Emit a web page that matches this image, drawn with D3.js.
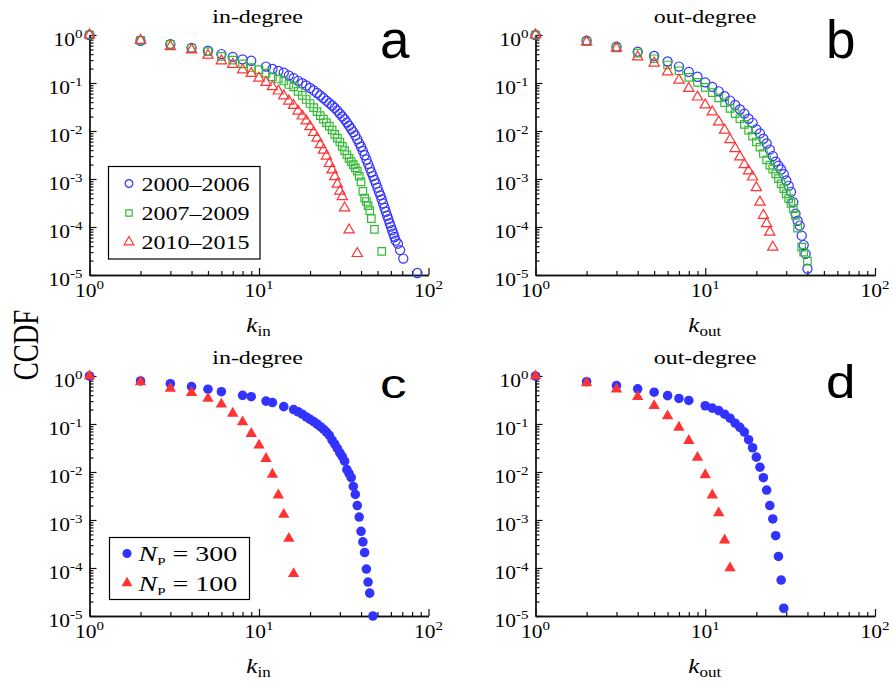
<!DOCTYPE html>
<html><head><meta charset="utf-8">
<script src="https://cdn.jsdelivr.net/npm/d3@7"></script>
<style>body{margin:0;background:#fff}svg{display:block}</style>
</head><body>
<svg id="chart" width="892" height="688"></svg>
<script>
// ---------- data ----------
const xTickExps = [0, 1, 2];
const yTickExps = [0, -1, -2, -3, -4, -5];
const panelTitles = ["in-degree", "out-degree", "in-degree", "out-degree"];
const panelLetters = ["a", "b", "c", "d"];
const axisSubs = ["in", "out", "in", "out"];
const legendPeriods = ["2000–2006", "2007–2009", "2010–2015"];
const legendNP = ["300", "100"];

// panel a: in-degree, empirical periods  [k, CCDF]
const inDeg2000 = [[1,1.0],[2,0.76],[3,0.64],[4,0.54],[5,0.47],[6,0.40],[7,0.35],[8,0.31],[9,0.29],[11,0.22],[12,0.196],[13,0.178],[14,0.164],[15,0.143],[16,0.126],[17,0.111],[18,0.099],[19,0.089],[20,0.079],[21,0.070],[22,0.062],[23,0.055],[24,0.0486],[25,0.0428],[26,0.038],[27,0.034],[28,0.0303],[29,0.0265],[30,0.023],[31,0.0201],[32,0.0176],[33,0.015],[34,0.0129],[35,0.011],[36,0.0095],[37,0.0081],[38,0.0067],[39,0.0056],[40,0.0047],[41,0.00385],[42,0.00313],[43,0.00255],[44,0.00207],[45,0.00169],[46,0.00138],[47,0.00115],[48,0.00096],[49,0.0008],[50,0.00066],[51,0.00054],[52,0.000456],[53,0.000375],[54,0.000308],[55,0.000253],[56,0.000208],[57,0.000172],[58,0.000146],[59,0.00012],[60,0.000102],[61,8.6e-5],[62,7.3e-5],[63,6.2e-5],[64,5.2e-5],[66,4.5e-5],[68,3.3e-5],[71,2.2e-5],[86,1.1e-5]];
const inDeg2007 = [[1,1.0],[2,0.77],[3,0.64],[4,0.53],[5,0.45],[6,0.36],[7,0.30],[8,0.25],[9,0.21],[10,0.19],[11,0.16],[12,0.135],[13,0.121],[14,0.11],[15,0.093],[16,0.083],[17,0.067],[18,0.0552],[19,0.0453],[20,0.0374],[21,0.0306],[22,0.0253],[23,0.0209],[24,0.0177],[25,0.0149],[26,0.0126],[27,0.0104],[28,0.0085],[29,0.0071],[30,0.0059],[31,0.0048],[32,0.0039],[33,0.0032],[34,0.0027],[35,0.0023],[36,0.0020],[37,0.0017],[38,0.00146],[39,0.00115],[40,0.00087],[41,0.00055],[42,0.00040],[43,0.00034],[44,0.00028],[45,0.00022],[46,0.00015],[48,8.9e-5],[53,3.1e-5]];
const inDeg2010 = [[1,1.0],[2,0.77],[3,0.57],[4,0.49],[5,0.38],[6,0.29],[7,0.245],[8,0.187],[9,0.158],[10,0.126],[11,0.103],[12,0.084],[13,0.068],[14,0.054],[15,0.042],[16,0.034],[17,0.026],[18,0.0205],[19,0.0162],[20,0.0123],[21,0.0093],[22,0.0071],[23,0.0052],[24,0.0040],[25,0.0030],[26,0.0021],[27,0.00155],[28,0.00112],[29,0.00078],[30,0.00056],[31,0.00043],[32,0.00025],[34,8.7e-5],[38,2.8e-5]];

// panel b: out-degree, empirical periods
const outDeg2000 = [[1,1.0],[2,0.76],[3,0.57],[4,0.45],[5,0.365],[6,0.28],[7,0.22],[8,0.17],[9,0.135],[10,0.103],[11,0.083],[12,0.067],[13,0.053],[14,0.043],[15,0.035],[16,0.028],[17,0.023],[18,0.018],[19,0.0148],[20,0.0108],[21,0.0089],[22,0.0069],[23,0.0055],[24,0.0041],[25,0.0030],[26,0.0023],[27,0.0019],[28,0.00158],[29,0.00126],[30,0.00093],[31,0.00072],[32,0.00054],[33,0.00033],[34,0.00019],[35,0.000135],[36,0.000107],[37,6.6e-5],[38,4.2e-5],[39,2.75e-5],[40,1.35e-5]];
const outDeg2007 = [[1,1.0],[2,0.73],[3,0.54],[4,0.42],[5,0.32],[6,0.237],[7,0.18],[8,0.131],[9,0.103],[10,0.081],[11,0.063],[12,0.049],[13,0.039],[14,0.0295],[15,0.023],[16,0.018],[17,0.0138],[18,0.0104],[19,0.0078],[20,0.0059],[21,0.0046],[22,0.0034],[23,0.0025],[24,0.00195],[25,0.0016],[26,0.00128],[27,0.00102],[28,0.00079],[29,0.00063],[30,0.00049],[31,0.00039],[32,0.00031],[33,0.00024],[34,0.000175],[35,9.5e-5],[37,3.8e-5],[38,3.0e-5],[40,1.95e-5]];
const outDeg2010 = [[1,1.0],[2,0.72],[3,0.53],[4,0.35],[5,0.26],[6,0.17],[7,0.115],[8,0.077],[9,0.051],[10,0.035],[11,0.025],[12,0.0155],[13,0.0104],[14,0.0066],[15,0.0043],[16,0.0029],[17,0.002],[18,0.00147],[19,0.0011],[20,0.00066],[21,0.00033],[22,0.000175],[23,0.000117],[24,7.8e-5],[25,3.8e-5]];

// panel c: in-degree, model
const inDegNP300 = [[1,1.0],[2,0.79],[3,0.69],[4,0.60],[5,0.53],[6,0.47],[8,0.395],[9,0.37],[11,0.30],[12,0.28],[14,0.23],[16,0.20],[17,0.18],[18,0.16],[19,0.14],[20,0.125],[21,0.112],[22,0.10],[23,0.088],[24,0.078],[25,0.068],[26,0.058],[27,0.046],[28,0.038],[29,0.031],[30,0.025],[31,0.021],[32,0.0168],[33,0.0112],[34,0.0093],[35,0.0076],[36,0.005],[37,0.0034],[38,0.0020],[39,0.00115],[40,0.00058],[41,0.00035],[42,0.00021],[43,9.5e-5],[44,5.1e-5],[45,3.0e-5],[47,1.0e-5]];
const inDegNP100 = [[1,1.0],[2,0.75],[3,0.55],[4,0.45],[5,0.34],[6,0.257],[7,0.166],[8,0.11],[9,0.063],[10,0.036],[11,0.019],[12,0.0089],[13,0.0033],[14,0.0013],[15,0.00041],[16,7.6e-5]];

// panel d: out-degree, model
const outDegNP300 = [[1,1.0],[2,0.76],[3,0.63],[4,0.54],[5,0.46],[6,0.39],[7,0.34],[8,0.31],[10,0.24],[11,0.214],[12,0.19],[13,0.16],[14,0.132],[15,0.104],[16,0.085],[17,0.068],[18,0.047],[19,0.032],[20,0.0204],[21,0.0126],[22,0.0076],[23,0.0042],[24,0.0020],[25,0.00105],[26,0.00047],[27,0.000174],[28,5.6e-5],[29,1.45e-5]];
const outDegNP100 = [[1,1.0],[2,0.72],[3,0.53],[4,0.37],[5,0.24],[6,0.147],[7,0.085],[8,0.045],[9,0.020],[10,0.0087],[11,0.0033],[12,0.0014],[13,0.00038],[14,1.0e-4]];

// ---------- styling / layout ----------
const BLUE = "#3333ff", GREEN = "#33bb33", RED = "#ff3333";
const SERIF = "'Liberation Serif','Times New Roman',serif";
const SANS = "'Liberation Sans',Arial,Helvetica,sans-serif";

const layout = [
  {x0: 89.5, x1: 428.5, y0: 35, y1: 275, tx: 257.5, ty: 22.5},
  {x0: 535.5, x1: 875, y0: 35, y1: 275, tx: 705, ty: 22.5},
  {x0: 89.5, x1: 428.5, y0: 376, y1: 616, tx: 257.5, ty: 363.5},
  {x0: 535.5, x1: 875, y0: 376, y1: 616, tx: 705, ty: 363.5}
];
const letterPos = [{x: 380, y: 58, sy: 1}, {x: 826, y: 58, sy: 1}, {x: 380, y: 398, sy: 0.78}, {x: 826, y: 398, sy: 0.88}];

const seriesByPanel = [
  [{d: inDeg2000, sym: d3.symbolCircle, size: 66, c: BLUE, fill: false},
   {d: inDeg2007, sym: d3.symbolSquare, size: 56, c: GREEN, fill: false},
   {d: inDeg2010, sym: d3.symbolTriangle, size: 46, c: RED, fill: false}],
  [{d: outDeg2000, sym: d3.symbolCircle, size: 66, c: BLUE, fill: false},
   {d: outDeg2007, sym: d3.symbolSquare, size: 56, c: GREEN, fill: false},
   {d: outDeg2010, sym: d3.symbolTriangle, size: 46, c: RED, fill: false}],
  [{d: inDegNP300, sym: d3.symbolCircle, size: 72, c: BLUE, fill: true},
   {d: inDegNP100, sym: d3.symbolTriangle, size: 56, c: RED, fill: true}],
  [{d: outDegNP300, sym: d3.symbolCircle, size: 72, c: BLUE, fill: true},
   {d: outDegNP100, sym: d3.symbolTriangle, size: 56, c: RED, fill: true}]
];

const svg = d3.select("#chart");
svg.append("rect").attr("width", 892).attr("height", 688).attr("fill", "#fff");

function stext(parent, x, y, sy, opts) {
  const g = parent.append("g").attr("transform", `translate(${x},${y}) scale(1,${sy})`);
  const t = g.append("text")
    .attr("font-family", opts.family || SERIF)
    .attr("font-size", opts.size)
    .attr("text-anchor", opts.anchor || "start")
    .attr("fill", "#000");
  if (opts.italic) t.attr("font-style", "italic");
  return t;
}

const majorVals = xTickExps.map(e => Math.pow(10, e));
const minorX = [];
for (let dcd = 1; dcd < 100; dcd *= 10) for (let m = 2; m <= 9; m++) minorX.push(m * dcd);
const yMajorVals = yTickExps.map(e => Math.pow(10, e));
const minorY = [];
for (let e = -5; e < 0; e++) for (let m = 2; m <= 9; m++) minorY.push(m * Math.pow(10, e));

layout.forEach((L, i) => {
  const g = svg.append("g");
  const x = d3.scaleLog().domain([1, 100]).range([L.x0, L.x1]);
  const y = d3.scaleLog().domain([1e-5, 1]).range([L.y1, L.y0]);

  const axStyle = sel => { sel.selectAll("path").attr("stroke", "#111").attr("stroke-width", 1.3);
                           sel.selectAll("line").attr("stroke", "#111").attr("stroke-width", 1.2);
                           sel.selectAll("text").remove(); };
  g.append("g").attr("transform", `translate(0,${L.y1})`)
    .call(d3.axisBottom(x).tickValues(majorVals).tickSize(-7).tickSizeOuter(0).tickFormat(""))
    .call(axStyle);
  g.append("g").attr("transform", `translate(0,${L.y1})`)
    .call(d3.axisBottom(x).tickValues(minorX).tickSize(-4).tickSizeOuter(0).tickFormat(""))
    .call(axStyle);
  g.append("g").attr("transform", `translate(${L.x0},0)`)
    .call(d3.axisLeft(y).tickValues(yMajorVals).tickSize(-7).tickSizeOuter(0).tickFormat(""))
    .call(axStyle);
  g.append("g").attr("transform", `translate(${L.x0},0)`)
    .call(d3.axisLeft(y).tickValues(minorY).tickSize(-4).tickSizeOuter(0).tickFormat(""))
    .call(axStyle);

  xTickExps.forEach(e => {
    const t = stext(g, x(Math.pow(10, e)), L.y1 + 21.5, 0.85, {size: 21.5, anchor: "middle"});
    t.append("tspan").text("10");
    t.append("tspan").attr("dy", -9).attr("font-size", 15).text(String(e));
  });
  yTickExps.forEach(e => {
    const t = stext(g, L.x0 - 7, y(Math.pow(10, e)) + 11, 0.85, {size: 21.5, anchor: "end"});
    t.append("tspan").text("10");
    t.append("tspan").attr("dy", -9).attr("font-size", 15).text(e === 0 ? "0" : "-" + Math.abs(e));
  });

  stext(g, L.tx, L.ty, 0.78, {size: 24, anchor: "middle"}).text(panelTitles[i]);

  const xl = stext(g, (L.x0 + L.x1) / 2 - 0.5, L.y1 + 57, 0.88, {size: 25, anchor: "middle"});
  xl.append("tspan").attr("font-style", "italic").text("k");
  xl.append("tspan").attr("font-size", 17).attr("dy", 5).text(axisSubs[i]);

  const lp = letterPos[i];
  stext(g, lp.x, lp.y, lp.sy, {size: 53, family: SANS}).text(panelLetters[i]);

  seriesByPanel[i].forEach(s => {
    const sym = d3.symbol().type(s.sym).size(s.size);
    g.append("g").selectAll("path").data(s.d).join("path")
      .attr("transform", d => `translate(${x(d[0])},${y(d[1])})`)
      .attr("d", sym)
      .attr("fill", s.fill ? s.c : "none")
      .attr("stroke", s.fill ? "none" : s.c)
      .attr("stroke-width", 1.2);
  });
});

// Legend panel a
{
  const lg = svg.append("g");
  lg.append("rect").attr("x", 108.5).attr("y", 166.5).attr("width", 151.5).attr("height", 92.5)
    .attr("fill", "#fff").attr("stroke", "#000").attr("stroke-width", 1.2);
  const ent = [
    {sym: d3.symbolCircle, size: 46, c: BLUE, y: 183.5},
    {sym: d3.symbolSquare, size: 40, c: GREEN, y: 213},
    {sym: d3.symbolTriangle, size: 40, c: RED, y: 242}
  ];
  ent.forEach((e, j) => {
    lg.append("path").attr("transform", `translate(129,${e.y})`)
      .attr("d", d3.symbol().type(e.sym).size(e.size)())
      .attr("fill", "none").attr("stroke", e.c).attr("stroke-width", 1.2);
    stext(lg, 141.5, e.y + 7, 0.82, {size: 24}).text(legendPeriods[j]);
  });
}
// Legend panel c
{
  const lg = svg.append("g");
  lg.append("rect").attr("x", 109.5).attr("y", 537.5).attr("width", 140).attr("height", 62)
    .attr("fill", "#fff").attr("stroke", "#000").attr("stroke-width", 1.2);
  const ent = [
    {sym: d3.symbolCircle, size: 64, c: BLUE, y: 553.5},
    {sym: d3.symbolTriangle, size: 52, c: RED, y: 583}
  ];
  ent.forEach((e, j) => {
    lg.append("path").attr("transform", `translate(127,${e.y})`)
      .attr("d", d3.symbol().type(e.sym).size(e.size)())
      .attr("fill", e.c);
    const t = stext(lg, 138.5, e.y + 7.5, 0.72, {size: 28});
    t.append("tspan").attr("font-style", "italic").text("N");
    t.append("tspan").attr("font-size", 15).attr("dy", 6).text("P");
    t.append("tspan").attr("dy", -6).text(" = " + legendNP[j]);
  });
}
// shared y label (glyph heights stretched like the reference)
svg.append("text").attr("transform", "translate(38,345) scale(1.3,1) rotate(-90)")
  .attr("text-anchor", "middle").attr("font-family", SERIF).attr("font-size", 27)
  .text("CCDF");
</script>
</body></html>
